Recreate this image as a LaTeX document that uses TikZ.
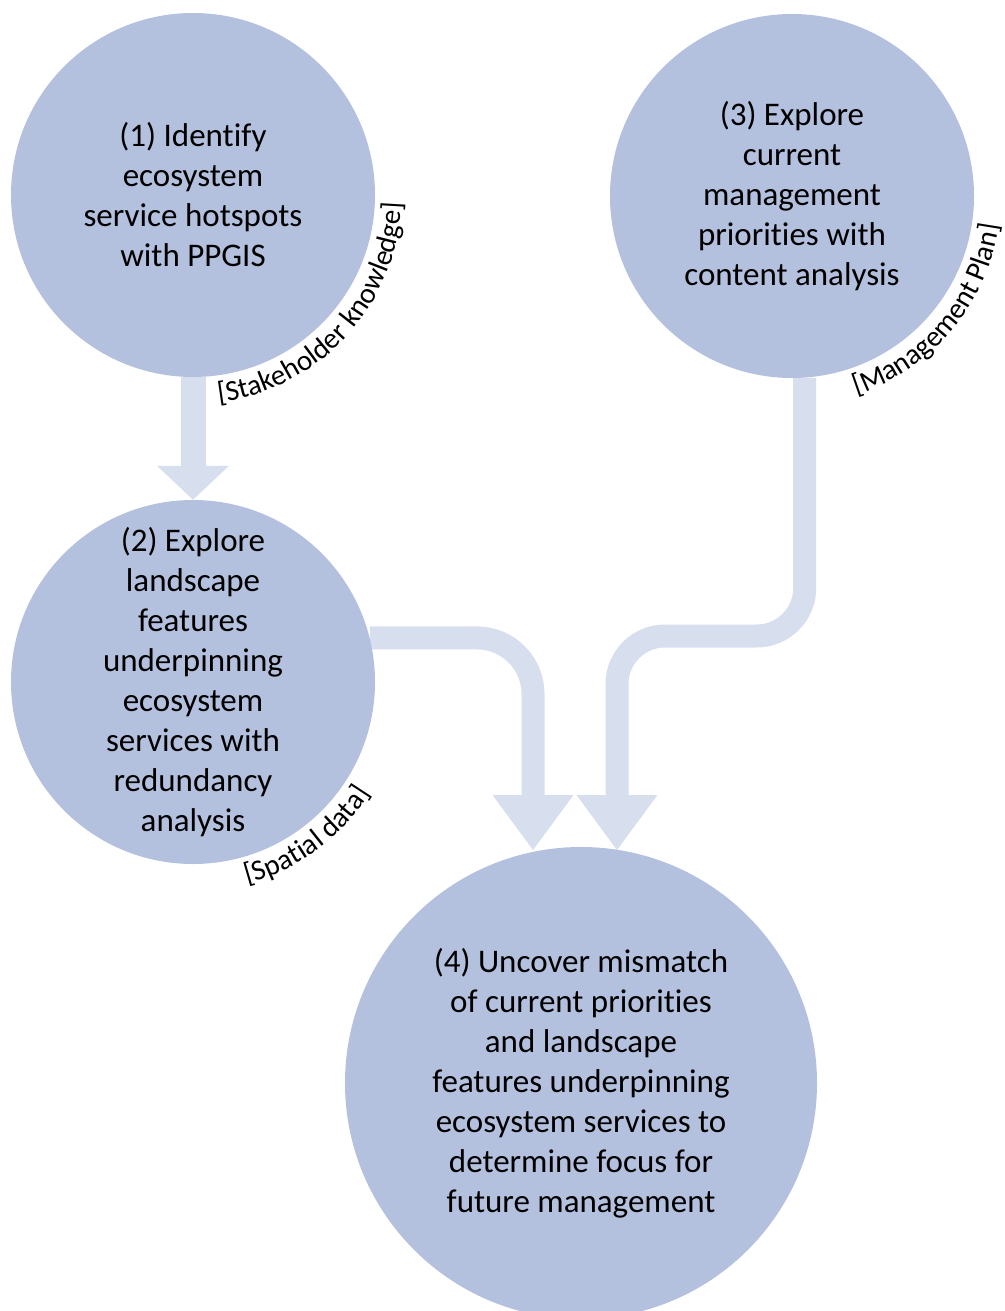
\documentclass[tikz,border=0pt]{standalone}
\usepackage{fontspec}
\setmainfont{Carlito}[Ligatures=CommonOff]
\usetikzlibrary{arrows.meta,decorations.text}
\definecolor{circfill}{RGB}{180,193,222}
\definecolor{flowcol}{RGB}{215,222,238}
\newcommand\labfont{\fontsize{29}{34}\selectfont}
\pgfdeclarelayer{bg}
\pgfsetlayers{bg,main}
\begin{document}
\begin{tikzpicture}[x=1pt,y=1pt,
  stage/.style={circle, fill=circfill, inner sep=0pt, align=center,
    font=\fontsize{33}{40}\selectfont, text=black},
  flow/.style={draw=flowcol, line width=23pt,
    -{Triangle[width=81pt 0 0,length=55pt 0 0,line width=0pt 0 0,fill=flowcol]}},
  flowa/.style={draw=flowcol, line width=25pt,
    -{Triangle[width=72pt 0 0,length=34pt 0 0,line width=0pt 0 0,fill=flowcol]}},
  arclabel/.style={decorate, decoration={text along path, text align=center, text={|\labfont|#1}}}
]
\useasboundingbox (0,0) rectangle (1004,-1311);

\node[stage, minimum size=364pt] (c1) at (193,-195) {(1) Identify\\ecosystem\\service hotspots\\with PPGIS};
\node[stage, minimum size=364pt] (c3) at (792,-196) {(3) Explore\\current\\management\\priorities with\\content analysis};
\node[stage, minimum size=364pt] (c2) at (193,-682) {(2) Explore\\landscape\\features\\underpinning\\ecosystem\\services with\\redundancy\\analysis};
\node[stage, minimum size=472pt] (c4) at (581,-1083) {(4) Uncover mismatch\\of current priorities\\and landscape\\features underpinning\\ecosystem services to\\determine focus for\\future management};

\coordinate (t2) at (533,-850);
\coordinate (t3) at (617,-850);
\coordinate (j3) at (617,-636);

\begin{pgfonlayer}{bg}
\draw[flowa] (c1.south) -- (c2.north);
\draw[flow, rounded corners=56pt] (c2.14) -| (t2);
\draw[flow, rounded corners=48pt] (c3.-86.5) |- (j3) -- (t3);
\end{pgfonlayer}

\path[arclabel={[Stakeholder knowledge]}] ([shift={(-92.5:209)}]c1.center) arc[start angle=-92.5, end angle=7.5, radius=209];
\path[arclabel={[Management Plan]}] ([shift={(-90:209)}]c3.center) arc[start angle=-90, end angle=10, radius=209];
\path[arclabel={[Spatial data]}] ([shift={(-103.5:209)}]c2.center) arc[start angle=-103.5, end angle=-3.5, radius=209];
\end{tikzpicture}
\end{document}
